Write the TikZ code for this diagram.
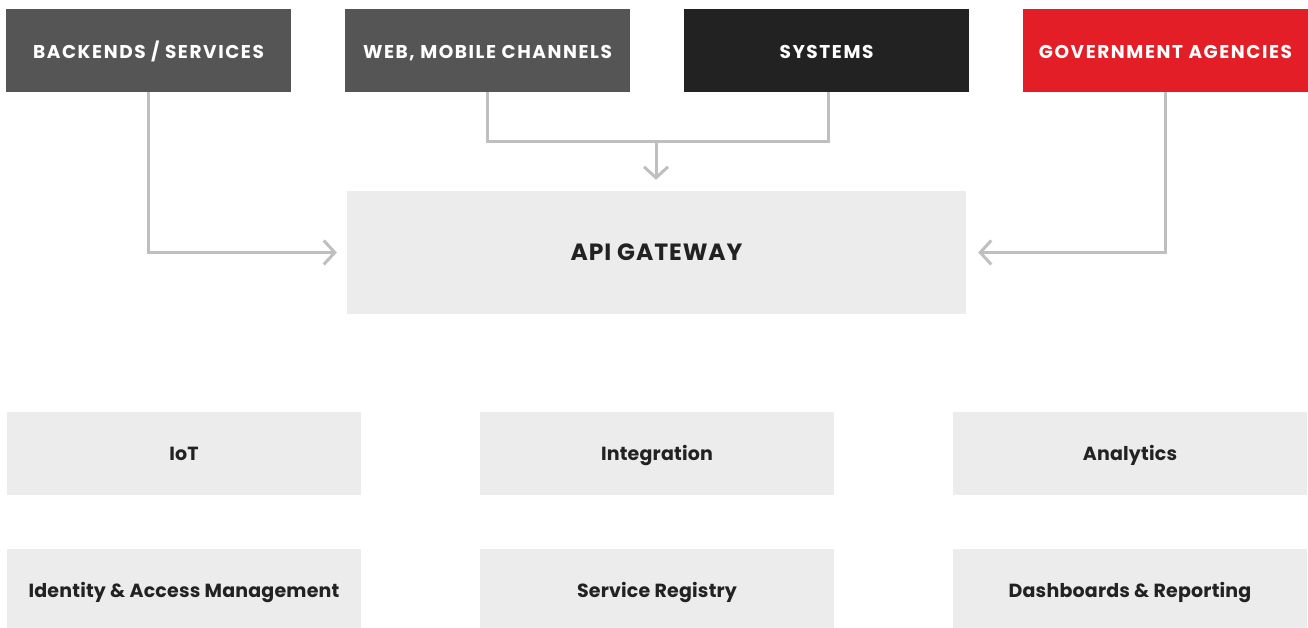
\documentclass[tikz,border=0pt]{standalone}
\usepackage{fontspec}
\setmainfont{Poppins}
\newfontfamily\topfont[LetterSpace=8.5]{Poppins}
\newfontfamily\gwfont[LetterSpace=4]{Poppins}
\newfontfamily\modfont[LetterSpace=1]{Poppins}
\usetikzlibrary{arrows.meta}
\definecolor{darkgrey}{HTML}{555555}
\definecolor{nearblack}{HTML}{222222}
\definecolor{redbox}{HTML}{E31E26}
\definecolor{lightbox}{HTML}{ECECEC}
\definecolor{linegrey}{HTML}{BFBFBF}
\definecolor{textdark}{HTML}{222222}
\tikzset{
  x=1pt,y=-1pt,
  topbox/.style={draw=none,minimum width=285pt,minimum height=83pt,inner sep=0pt,text=white,text height=16.5pt,text depth=0pt,font=\topfont\fontsize{18.5}{20}\selectfont\bfseries},
  gwbox/.style={fill=lightbox,minimum width=619pt,minimum height=123pt,inner sep=0pt,text=textdark,text height=16.4pt,text depth=0pt,font=\gwfont\fontsize{23.5}{26}\selectfont\bfseries},
  modbox/.style={fill=lightbox,minimum width=354pt,minimum height=83pt,inner sep=0pt,text=textdark,text height=14pt,text depth=0pt,font=\modfont\fontsize{19}{21}\selectfont\bfseries},
  conn/.style={draw=linegrey,line width=3pt},
  arr/.style={conn,-{Straight Barb[length=11pt,width=24pt,line width=3pt]}}
}
\begin{document}
\begin{tikzpicture}
\useasboundingbox (0,0) rectangle (1308,628);
\node[topbox,fill=darkgrey] (back) at (148.5,50.5) {BACKENDS / SERVICES};
\node[topbox,fill=darkgrey] (web) at (487.5,50.5) {WEB, MOBILE CHANNELS};
\node[topbox,fill=nearblack] (sys) at (826.5,50.5) {SYSTEMS};
\node[topbox,fill=redbox] (gov) at (1165.5,50.5) {GOVERNMENT AGENCIES};
\node[gwbox] (gw) at (656.5,252.5) {API GATEWAY};
\node[modbox] (iot) at (184,453.5) {IoT};
\node[modbox] (int) at (657,453.5) {Integration};
\node[modbox] (ana) at (1130,453.5) {Analytics};
\node[modbox] (iam) at (184,590.5) {Identity \& Access Management};
\node[modbox] (reg) at (657,590.5) {Service Registry};
\node[modbox] (dash) at (1130,590.5) {Dashboards \& Reporting};
\coordinate (jm) at (656,142);
\draw[conn] ([xshift=-0.5pt]web.south) |- (jm) -| ([xshift=1.5pt]sys.south);
\draw[arr] (jm) -- ([yshift=11pt]gw.north -| jm);
\draw[arr] (back.south) |- ([xshift=-10pt]gw.west);
\draw[arr] (gov.south) |- ([xshift=12pt]gw.east);
\end{tikzpicture}
\end{document}
